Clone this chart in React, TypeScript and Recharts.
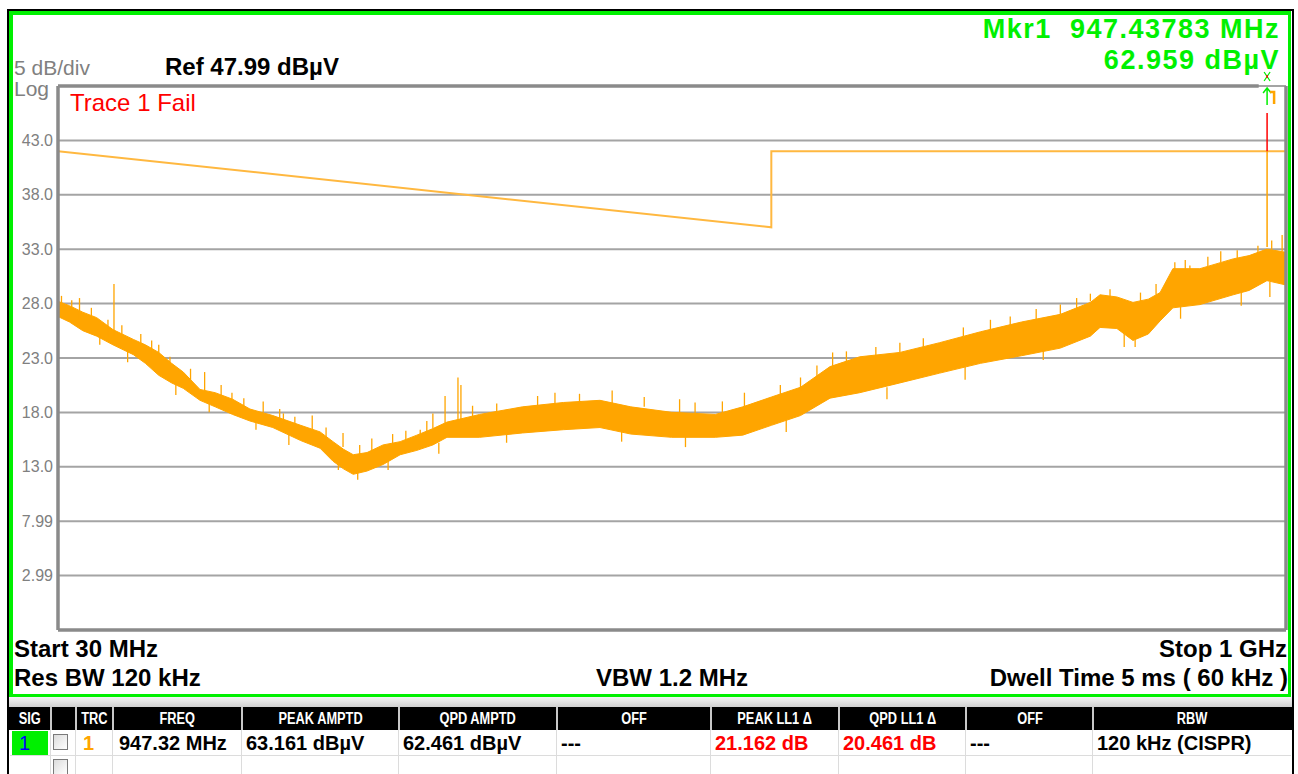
import React from 'react'
import {
  Area,
  CartesianGrid,
  ComposedChart,
  Line,
  ReferenceDot,
  ReferenceLine,
  XAxis,
  YAxis,
} from 'recharts'

const freqMHz = [
  30, 31, 32.2, 33.5, 35.1, 37.2, 38.5, 40, 41.5, 42.9, 45, 47, 49.4, 51.9, 55.4, 60, 63.4, 65.8,
  67.8, 69.7, 72.5, 75.9, 79.7, 83.6, 87.5, 91.1, 100, 113, 127, 141, 154, 173, 196, 212, 230, 250,
  272, 296, 332, 372, 418, 470, 525, 572, 588, 617, 646, 675, 698, 724, 782, 860, 900, 947, 1000,
]
const traceLow = [
  26.8, 26.3, 25.5, 25.0, 24.2, 23.3, 22.5, 21.4, 20.7, 20.2, 19.1, 18.5, 17.8, 17.2, 16.6, 15.4,
  14.7, 13.5, 12.8, 12.3, 12.6, 13.2, 14.1, 14.5, 15.0, 15.7, 15.7, 16.1, 16.4, 16.6, 16.0, 15.7,
  15.7, 15.9, 16.8, 17.7, 19.3, 19.8, 20.7, 21.6, 22.5, 23.2, 23.9, 25.0, 25.8, 25.7, 24.6, 25.2,
  26.4, 27.6, 27.9, 28.8, 29.2, 30.1, 29.7,
]
const traceHigh = [
  28.2, 27.8, 27.2, 26.7, 25.6, 24.7, 24.2, 23.5, 22.5, 21.7, 20.1, 19.8, 19.2, 18.3, 17.7, 16.8,
  16.2, 15.3, 14.6, 14.1, 14.3, 15.0, 15.3, 15.9, 16.5, 17.1, 17.8, 18.5, 18.9, 19.1, 18.5, 18.0,
  17.8, 18.5, 19.4, 20.3, 22.2, 23.1, 23.5, 24.4, 25.4, 26.3, 27.0, 28.1, 28.8, 28.6, 28.1, 28.4,
  29.0, 31.2, 31.2, 32.1, 32.4, 33.0, 32.7,
]

// single noise spikes sticking out of the band (up and down)
const spikeFreq = [
  30.3, 31.2, 31.9, 33, 33.8, 34.6, 35.2, 36, 36.6, 38, 39.2, 40, 41.3, 42, 43.8, 45.6, 46.2, 47.8,
  49.3, 51, 52.8, 53.9, 56.5, 57.1, 58, 59, 62, 64.5, 66.8, 67.7, 70.6, 71, 73.5, 77, 78, 81, 84.4,
  86, 87.5, 89, 90.6, 94, 94.8, 98, 105, 108, 118, 124, 133, 146, 150, 160, 177, 180, 185, 200,
  213, 236, 240, 250, 262, 274, 285, 310, 320, 332, 355, 398, 400, 430, 455, 490, 500, 525, 550,
  572, 605, 630, 650, 660, 690, 728, 740, 750, 760, 800, 830, 870, 880, 923, 955, 960, 989,
]
const spikeBase = [
  27.5, 27.5, 26.5, 26.5, 25.2, 25.0, 25.0, 24.8, 23.8, 23.8, 23.0, 23.0, 22.0, 20.6, 20.8, 20.0,
  19.0, 19.5, 19.0, 18.3, 17.5, 18.0, 17.3, 17.0, 16.3, 16.5, 16.3, 15.5, 14.0, 14.8, 12.5, 14.0,
  14.3, 13.5, 15.0, 15.3, 15.8, 16.0, 16.5, 15.2, 17.0, 17.0, 17.0, 17.5, 17.8, 16.2, 18.4, 18.5,
  18.8, 18.8, 16.4, 18.5, 18.0, 15.8, 17.8, 17.9, 18.5, 19.5, 17.3, 20.0, 21.0, 22.0, 22.5, 23.0,
  20.3, 23.5, 23.8, 25.0, 22.2, 25.5, 26.0, 26.5, 23.8, 27.0, 27.5, 28.2, 28.5, 25.2, 24.8, 28.0,
  28.8, 31.0, 27.8, 31.0, 31.0, 31.4, 31.8, 32.0, 29.0, 32.5, 30.0, 33.0, 32.8,
]
const spikeTip = [
  28.7, 28.3, 28.5, 27.6, 24.2, 26.5, 29.8, 26.0, 22.6, 25.2, 24.6, 24.2, 23.1, 19.6, 22.0, 21.7,
  18.0, 20.5, 19.8, 19.3, 16.4, 19.0, 18.3, 17.9, 15.0, 17.6, 17.7, 16.6, 12.7, 16.1, 11.8, 15.0,
  15.6, 12.7, 16.0, 16.3, 16.4, 17.2, 17.9, 14.2, 19.5, 21.2, 20.5, 18.6, 18.8, 15.2, 19.5, 19.8,
  19.7, 20.0, 15.3, 19.4, 19.2, 14.8, 18.9, 19.0, 19.8, 20.5, 16.2, 21.2, 22.3, 23.5, 23.6, 24.0,
  19.2, 24.4, 24.8, 25.8, 21.0, 26.5, 26.8, 27.5, 22.8, 27.9, 28.5, 28.9, 29.3, 24.0, 24.0, 29.0,
  29.8, 31.8, 26.6, 32.0, 31.5, 32.3, 32.8, 32.9, 27.8, 33.3, 28.6, 33.8, 34.3,
]

// limit line LL1
const limitFreq = [30, 230, 230, 1000]
const limitLevel = [42, 35, 42, 42]

const gridFreqs = [40, 50, 60, 70, 80, 90, 100, 200, 300, 400, 500, 600, 700, 800, 900]
const levelTicks = [2.99, 7.99, 12.99, 17.99, 22.99, 27.99, 32.99, 37.99, 42.99]
const levelLabels = ['2.99', '7.99', '13.0', '18.0', '23.0', '28.0', '33.0', '38.0', '43.0']

const REF_LEVEL = 47.99
const BOTTOM_LEVEL = -2.01
const START_F = 30
const STOP_F = 1000
const markerFreq = 947.43783
const markerTrace = 33.2
const markerRedTop = 45.5

// marker table
const colEdges = [10, 50, 75, 112, 241, 398, 556, 710, 838, 965, 1092, 1291]
const tableHeaders = ['SIG', '', 'TRC', 'FREQ', 'PEAK AMPTD', 'QPD AMPTD', 'OFF', 'PEAK LL1 Δ', 'QPD LL1 Δ', 'OFF', 'RBW']
const rowValues = ['1', '', '1', '947.32 MHz', '63.161 dBµV', '62.461 dBµV', '---', '21.162 dB', '20.461 dB', '---', '120 kHz (CISPR)']
const rowColors = ['#0000ff', '#000', '#ffa500', '#000', '#000', '#000', '#000', '#ff0000', '#ff0000', '#000', '#000']

const SANS = '"Liberation Sans", Arial, Helvetica, sans-serif'
const ORANGE = '#ffa500'
const GREEN = '#00f000'
const BORDER = '#8a8a8a'

const MarkerGlyph = (props: any) => {
  const { cx, cy } = props
  if (cx == null || cy == null) return null
  return (
    <g>
      <path
        d={`M${cx - 3},${cy - 14} L${cx + 3},${cy - 5} M${cx + 3},${cy - 14} L${cx - 3},${cy - 5}`}
        stroke={GREEN}
        strokeWidth={1.3}
        fill="none"
      />
      <path d={`M${cx},${cy - 11} L${cx},${cy - 8}`} stroke="#ff0000" strokeWidth={1.5} />
      <path
        d={`M${cx},${cy + 19} L${cx},${cy + 2} M${cx - 4},${cy + 7} L${cx},${cy + 2} L${cx + 4},${cy + 7}`}
        stroke={GREEN}
        strokeWidth={1.5}
        fill="none"
      />
      <path
        d={`M${cx + 3},${cy + 6} L${cx + 7},${cy + 6} L${cx + 7},${cy + 18}`}
        stroke={ORANGE}
        strokeWidth={2.5}
        fill="none"
      />
    </g>
  )
}

const text = (style: React.CSSProperties): React.CSSProperties => ({
  position: 'absolute',
  lineHeight: 1,
  whiteSpace: 'pre',
  fontFamily: SANS,
  ...style,
})

export default function App() {
  const bandData = freqMHz.map((f, i) => ({ f, band: [traceLow[i], traceHigh[i]] }))
  const limitData = limitFreq.map((f, i) => ({ f, level: limitLevel[i] }))

  const tickLabel = (v: number) => {
    const i = levelTicks.findIndex((t) => Math.abs(t - v) < 0.001)
    return i >= 0 ? levelLabels[i] : ''
  }

  return (
    <div
      style={{
        position: 'absolute',
        left: 0,
        top: 0,
        width: 1298,
        height: 774,
        overflow: 'hidden',
        background: '#fff',
        fontFamily: SANS,
      }}
    >
      {/* outer black frame */}
      <div
        style={{
          position: 'absolute',
          left: 7,
          top: 9,
          width: 1287,
          height: 800,
          border: '2px solid #000',
          boxSizing: 'border-box',
        }}
      />
      {/* green active window frame */}
      <div
        style={{
          position: 'absolute',
          left: 9,
          top: 11,
          width: 1282,
          height: 686,
          borderLeft: `4px solid ${GREEN}`,
          borderTop: `4px solid ${GREEN}`,
          borderRight: `3px solid ${GREEN}`,
          borderBottom: `3px solid ${GREEN}`,
          boxSizing: 'border-box',
        }}
      />
      {/* gray splitter */}
      <div
        style={{
          position: 'absolute',
          left: 9,
          top: 697,
          width: 1283,
          height: 10,
          background: 'linear-gradient(#f4f4f4, #d0d0d0)',
        }}
      />

      <div style={{ position: 'absolute', left: 0, top: 0 }}>
        <ComposedChart
          width={1298}
          height={774}
          data={bandData}
          margin={{ top: 86, right: 12, bottom: 144, left: 0 }}
        >
          <CartesianGrid stroke="#a4a4a4" strokeWidth={2} />
          <XAxis
            dataKey="f"
            type="number"
            scale="log"
            domain={[START_F, STOP_F]}
            ticks={gridFreqs}
            allowDataOverflow
            height={0}
            tick={false}
            tickLine={false}
            axisLine={false}
          />
          <YAxis
            type="number"
            domain={[BOTTOM_LEVEL, REF_LEVEL]}
            ticks={levelTicks}
            allowDataOverflow
            width={58}
            axisLine={false}
            tickLine={false}
            tickSize={0}
            tickMargin={5}
            tickFormatter={tickLabel}
            tick={{ fill: '#808080', fontSize: 16, fontFamily: SANS }}
          />
          <Line
            data={limitData}
            dataKey="level"
            type="linear"
            stroke="#ffb840"
            strokeWidth={2}
            dot={false}
            activeDot={false}
            isAnimationActive={false}
          />
          <Area
            dataKey="band"
            type="linear"
            stroke={ORANGE}
            strokeWidth={1}
            fill={ORANGE}
            fillOpacity={1}
            dot={false}
            activeDot={false}
            isAnimationActive={false}
          />
          {spikeFreq.map((f, i) => (
            <ReferenceLine
              key={`s${i}`}
              segment={[
                { x: f, y: spikeBase[i] },
                { x: f, y: spikeTip[i] },
              ]}
              stroke={ORANGE}
              strokeWidth={1.3}
              ifOverflow="visible"
            />
          ))}
          <ReferenceLine
            segment={[
              { x: markerFreq, y: markerTrace },
              { x: markerFreq, y: limitLevel[3] },
            ]}
            stroke={ORANGE}
            strokeWidth={1.5}
            ifOverflow="visible"
          />
          <ReferenceLine
            segment={[
              { x: markerFreq, y: limitLevel[3] },
              { x: markerFreq, y: markerRedTop },
            ]}
            stroke="#ff0000"
            strokeWidth={1.5}
            ifOverflow="visible"
          />
          {/* graticule border */}
          <ReferenceLine
            segment={[
              { x: START_F, y: BOTTOM_LEVEL },
              { x: START_F, y: REF_LEVEL },
            ]}
            stroke={BORDER}
            strokeWidth={3.5}
            ifOverflow="visible"
          />
          <ReferenceLine
            segment={[
              { x: START_F, y: BOTTOM_LEVEL },
              { x: STOP_F, y: BOTTOM_LEVEL },
            ]}
            stroke={BORDER}
            strokeWidth={3.5}
            ifOverflow="visible"
          />
          <ReferenceLine
            segment={[
              { x: START_F, y: REF_LEVEL },
              { x: 925, y: REF_LEVEL },
            ]}
            stroke={BORDER}
            strokeWidth={3.5}
            ifOverflow="visible"
          />
          <ReferenceLine
            segment={[
              { x: STOP_F, y: BOTTOM_LEVEL },
              { x: STOP_F, y: REF_LEVEL },
            ]}
            stroke={BORDER}
            strokeWidth={3.5}
            ifOverflow="visible"
          />
          <ReferenceDot
            x={markerFreq}
            y={REF_LEVEL}
            r={0}
            ifOverflow="visible"
            shape={MarkerGlyph}
          />
        </ComposedChart>
      </div>

      {/* screen annotations */}
      <div style={text({ left: 14, top: 57, fontSize: 21, color: '#808080' })}>5 dB/div</div>
      <div style={text({ left: 14, top: 78, fontSize: 21, color: '#808080' })}>Log</div>
      <div style={text({ left: 165, top: 55, fontSize: 24, fontWeight: 'bold', color: '#000' })}>
        Ref 47.99 dBµV
      </div>
      <div style={text({ left: 70, top: 91, fontSize: 24, color: '#ff0000' })}>Trace 1 Fail</div>
      <div
        style={text({
          right: 18,
          top: 16,
          fontSize: 27,
          letterSpacing: 1.5,
          fontWeight: 'bold',
          color: GREEN,
        })}
      >
        {'Mkr1  947.43783 MHz'}
      </div>
      <div
        style={text({
          right: 18,
          top: 47,
          fontSize: 27,
          letterSpacing: 1.5,
          fontWeight: 'bold',
          color: GREEN,
        })}
      >
        62.959 dBµV
      </div>
      <div style={text({ left: 14, top: 637, fontSize: 24, fontWeight: 'bold', color: '#000' })}>
        Start 30 MHz
      </div>
      <div style={text({ right: 11, top: 637, fontSize: 24, fontWeight: 'bold', color: '#000' })}>
        Stop 1 GHz
      </div>
      <div style={text({ left: 14, top: 666, fontSize: 24, fontWeight: 'bold', color: '#000' })}>
        Res BW 120 kHz
      </div>
      <div style={text({ left: 596, top: 666, fontSize: 24, fontWeight: 'bold', color: '#000' })}>
        VBW 1.2 MHz
      </div>
      <div style={text({ right: 10, top: 666, fontSize: 24, fontWeight: 'bold', color: '#000' })}>
        {'Dwell Time 5 ms ( 60 kHz )'}
      </div>

      {/* marker table */}
      <div style={{ position: 'absolute', left: 9, top: 707, width: 1283, height: 23, background: '#000' }} />
      {tableHeaders.map((h, i) => (
        <div
          key={`h${i}`}
          style={{
            position: 'absolute',
            left: colEdges[i],
            top: 707,
            width: colEdges[i + 1] - colEdges[i],
            height: 23,
            borderLeft: i > 0 ? '2px solid #c8c8c8' : 'none',
            boxSizing: 'border-box',
            display: 'flex',
            alignItems: 'center',
            justifyContent: 'center',
            color: '#fff',
            fontSize: 16,
            fontWeight: 'bold',
            fontFamily: SANS,
          }}
        >
          <span style={{ display: 'inline-block', transform: 'scaleX(0.8)', whiteSpace: 'pre' }}>{h}</span>
        </div>
      ))}
      {[0, 1].map((r) =>
        colEdges.slice(0, -1).map((x, i) => (
          <div
            key={`c${r}-${i}`}
            style={{
              position: 'absolute',
              left: x,
              top: r === 0 ? 730 : 756,
              width: colEdges[i + 1] - x,
              height: r === 0 ? 26 : 20,
              borderLeft: i > 0 ? '1px solid #dcdcdc' : 'none',
              borderBottom: '1px solid #dcdcdc',
              boxSizing: 'border-box',
            }}
          />
        ))
      )}
      <div style={{ position: 'absolute', left: 12, top: 731, width: 36, height: 24, background: GREEN }} />
      {[734, 759].map((y) => (
        <div
          key={`cb${y}`}
          style={{
            position: 'absolute',
            left: 53,
            top: y,
            width: 15,
            height: 16,
            border: '1px solid #7a7a7a',
            boxSizing: 'border-box',
            background: 'linear-gradient(135deg, #dcdcdc, #ffffff)',
          }}
        />
      ))}
      {rowValues.map((v, i) =>
        v ? (
          <div
            key={`v${i}`}
            style={text({
              left: colEdges[i] + (i === 0 ? 9 : i === 2 ? 8 : i === 3 ? 7 : 5),
              top: 730,
              height: 26,
              lineHeight: '26px',
              fontSize: 20,
              fontWeight: i === 0 ? 'normal' : 'bold',
              color: rowColors[i],
            })}
          >
            {v}
          </div>
        ) : null
      )}
    </div>
  )
}
